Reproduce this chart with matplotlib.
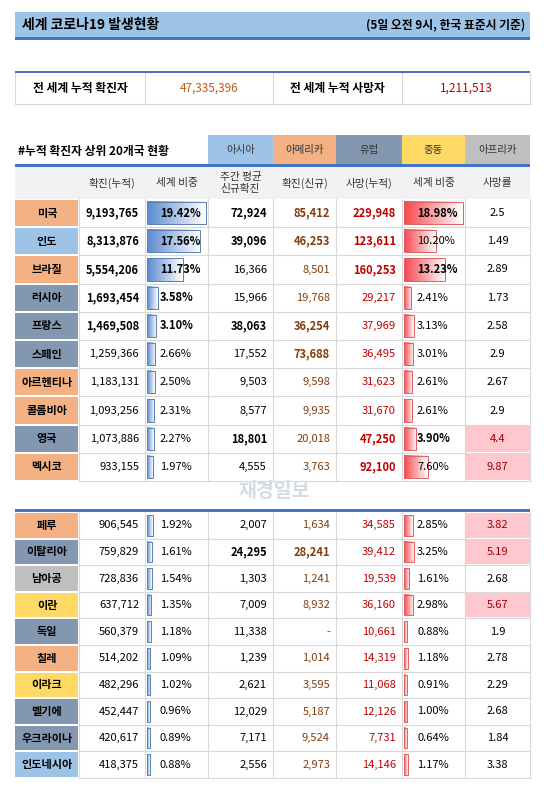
import numpy as np
import matplotlib
matplotlib.use("Agg")
import matplotlib.pyplot as plt
from matplotlib.patches import Rectangle

plt.rcParams['font.family'] = ['Noto Sans CJK KR', 'DejaVu Sans']

# --- DATA ---
TOTAL_CASES = "47,335,396"
TOTAL_DEATHS = "1,211,513"
countries = ["미국", "인도", "브라질", "러시아", "프랑스", "스페인", "아르헨티나", "콜롬비아", "영국", "멕시코",
             "페루", "이탈리아", "남아공", "이란", "독일", "칠레", "이라크", "벨기에", "우크라이나", "인도네시아"]
regions = ["Am", "As", "Am", "Eu", "Eu", "Eu", "Am", "Am", "Eu", "Am",
           "Am", "Eu", "Af", "Me", "Eu", "Am", "Me", "Eu", "Eu", "As"]
cases = [9193765, 8313876, 5554206, 1693454, 1469508, 1259366, 1183131, 1093256, 1073886, 933155,
         906545, 759829, 728836, 637712, 560379, 514202, 482296, 452447, 420617, 418375]
case_share = [19.42, 17.56, 11.73, 3.58, 3.10, 2.66, 2.50, 2.31, 2.27, 1.97,
              1.92, 1.61, 1.54, 1.35, 1.18, 1.09, 1.02, 0.96, 0.89, 0.88]
weekly_avg = [72924, 39096, 16366, 15966, 38063, 17552, 9503, 8577, 18801, 4555,
              2007, 24295, 1303, 7009, 11338, 1239, 2621, 12029, 7171, 2556]
new_cases = [85412, 46253, 8501, 19768, 36254, 73688, 9598, 9935, 20018, 3763,
             1634, 28241, 1241, 8932, None, 1014, 3595, 5187, 9524, 2973]
deaths = [229948, 123611, 160253, 29217, 37969, 36495, 31623, 31670, 47250, 92100,
          34585, 39412, 19539, 36160, 10661, 14319, 11068, 12126, 7731, 14146]
death_share = [18.98, 10.20, 13.23, 2.41, 3.13, 3.01, 2.61, 2.61, 3.90, 7.60,
               2.85, 3.25, 1.61, 2.98, 0.88, 1.18, 0.91, 1.00, 0.64, 1.17]
death_rate = ["2.5", "1.49", "2.89", "1.73", "2.58", "2.9", "2.67", "2.9", "4.4", "9.87",
              "3.82", "5.19", "2.68", "5.67", "1.9", "2.78", "2.29", "2.68", "1.84", "3.38"]
headers = ["", "확진(누적)", "세계 비중", "주간 평균\n신규확진", "확진(신규)", "사망(누적)", "세계 비중", "사망률"]
legend_labels = ["아시아", "아메리카", "유럽", "중동", "아프리카"]
legend_keys = ["As", "Am", "Eu", "Me", "Af"]

# bold cells (row, col)
BOLD = {(0, c) for c in range(1, 7)} | {(1, 1), (1, 2), (1, 3), (1, 4), (1, 5)} | \
       {(2, 1), (2, 2), (2, 5), (2, 6)} | {(3, 1), (3, 2)} | {(4, 1), (4, 2), (4, 3), (4, 4)} | \
       {(5, 4)} | {(8, 3), (8, 5), (8, 6)} | {(9, 5)} | {(11, 3), (11, 4)}

REGION_COLORS = {"As": "#9DC3E6", "Am": "#F4B183", "Eu": "#8497B0", "Me": "#FFD966", "Af": "#BFBFBF"}
COLS = [15, 79, 145, 208, 273, 336, 402, 465, 530]
BLUE = "#4472C4"
GRID = "#D9D9D9"
FS = 8

fig = plt.figure(figsize=(5.48, 7.89), dpi=100)
ax = fig.add_axes([0, 0, 1, 1])
ax.set_xlim(0, 548)
ax.set_ylim(789, 0)
ax.axis('off')


def rect(x0, y0, x1, y1, color, **kw):
    ax.add_patch(Rectangle((x0, y0), x1 - x0, y1 - y0, facecolor=color, edgecolor=kw.pop('ec', 'none'), **kw))


def gradient_bar(x0, y0, w, h, c0, c1, edge):
    grad = np.linspace(0, 1, 64)[None, :, None]
    a = np.array(matplotlib.colors.to_rgb(c0))[None, None, :]
    b = np.array(matplotlib.colors.to_rgb(c1))[None, None, :]
    img = a * (1 - grad) + b * grad
    ax.imshow(img, extent=(x0, x0 + w, y0 + h, y0), aspect='auto', zorder=2, interpolation='bilinear')
    ax.add_patch(Rectangle((x0, y0), w, h, fill=False, edgecolor=edge, lw=0.7, zorder=3))


# title bar
rect(15, 12, 530, 38, "#9DC3E6")
rect(15, 37, 530, 40, BLUE)
ax.text(22, 25, "세계 코로나19 발생현황", fontsize=10, fontweight='bold', va='center')
ax.text(525, 25, "(5일 오전 9시, 한국 표준시 기준)", fontsize=8.5, fontweight='bold', va='center', ha='right')

# summary box
rect(15, 71, 530, 73, BLUE)
ax.plot([15, 530], [104, 104], color=GRID, lw=0.8)
for x in [15, 145, 273, 402, 530]:
    ax.plot([x, x], [73, 104], color=GRID, lw=0.8)
ax.text(80, 88, "전 세계 누적 확진자", fontsize=8.5, fontweight='bold', ha='center', va='center')
ax.text(209, 88, TOTAL_CASES, fontsize=8.5, color="#C55A11", ha='center', va='center')
ax.text(337, 88, "전 세계 누적 사망자", fontsize=8.5, fontweight='bold', ha='center', va='center')
ax.text(466, 88, TOTAL_DEATHS, fontsize=8.5, color="#C00000", ha='center', va='center')

# section title and legend
ax.text(18, 151, "#누적 확진자 상위 20개국 현황", fontsize=8.5, fontweight='bold', va='center')
for i, (lab, key) in enumerate(zip(legend_labels, legend_keys)):
    x0, x1 = COLS[3 + i], COLS[4 + i]
    rect(x0, 135, x1, 165, REGION_COLORS[key])
    ax.text((x0 + x1) / 2, 150, lab, fontsize=7.5, ha='center', va='center', color="#333333")
rect(15, 164, 530, 167, BLUE)

# header row
rect(15, 167, 530, 199, "#F2F2F2")
for j, h in enumerate(headers):
    ax.text((COLS[j] + COLS[j + 1]) / 2, 183, h, fontsize=FS - 0.3, ha='center', va='center',
            color="#333333", linespacing=1.35)

max_cs = max(case_share)
max_ds = max(death_share)


def draw_rows(start, n, top, rh):
    for k in range(n):
        i = start + k
        y0 = top + k * rh
        y1 = y0 + rh
        yc = (y0 + y1) / 2
        rect(COLS[0], y0 + 1, COLS[1] - 1, y1 - 1, REGION_COLORS[regions[i]])
        ax.plot([COLS[1], COLS[-1]], [y1, y1], color=GRID, lw=0.8, zorder=1)
        for x in COLS[1:]:
            ax.plot([x, x], [y0, y1], color=GRID, lw=0.8, zorder=1)
        rate_val = float(death_rate[i])
        if rate_val >= 3.8:
            rect(COLS[7] + 1, y0 + 1, COLS[8], y1 - 1, "#FFC7CE")
        ax.text((COLS[0] + COLS[1]) / 2, yc, countries[i], fontsize=FS, fontweight='bold', ha='center', va='center')
        bw = COLS[3] - COLS[2] - 4
        gradient_bar(COLS[2] + 2, y0 + 3, max(bw * case_share[i] / max_cs, 3), rh - 6, "#5B8BD0", "#FFFFFF", "#5B7FB0")
        bw = COLS[7] - COLS[6] - 4
        gradient_bar(COLS[6] + 2, y0 + 3, max(bw * death_share[i] / max_ds, 3), rh - 6, "#F8474F", "#FFFFFF", "#E06060")

        def wt(c):
            return 'bold' if (i, c) in BOLD else 'normal'
        ax.text(COLS[2] - 6, yc, f"{cases[i]:,}", fontsize=FS, ha='right', va='center', fontweight=wt(1), zorder=4)
        ax.text(COLS[2] + 15, yc, f"{case_share[i]:.2f}%", fontsize=FS, ha='left', va='center', fontweight=wt(2), zorder=4)
        ax.text(COLS[4] - 6, yc, f"{weekly_avg[i]:,}", fontsize=FS, ha='right', va='center', fontweight=wt(3), zorder=4)
        nc = "-" if new_cases[i] is None else f"{new_cases[i]:,}"
        ax.text(COLS[5] - 6, yc, nc, fontsize=FS, ha='right', va='center', fontweight=wt(4), color="#843C0C", zorder=4)
        ax.text(COLS[6] - 6, yc, f"{deaths[i]:,}", fontsize=FS, ha='right', va='center', fontweight=wt(5), color="#C00000", zorder=4)
        ax.text(COLS[6] + 15, yc, f"{death_share[i]:.2f}%", fontsize=FS, ha='left', va='center', fontweight=wt(6), zorder=4)
        ax.text((COLS[7] + COLS[8]) / 2, yc, death_rate[i], fontsize=FS, ha='center', va='center',
                color="#9C0006" if rate_val >= 3.8 else "black", zorder=4)


draw_rows(0, 10, 199, 28.2)

# watermark
ax.text(274, 491, "재경일보", fontsize=14, fontweight='bold', color="#D5DCE6", ha='center', va='center')

rect(15, 509, 530, 512, BLUE)
draw_rows(10, 10, 512, 26.6)

fig.savefig("out.png", dpi=100)
